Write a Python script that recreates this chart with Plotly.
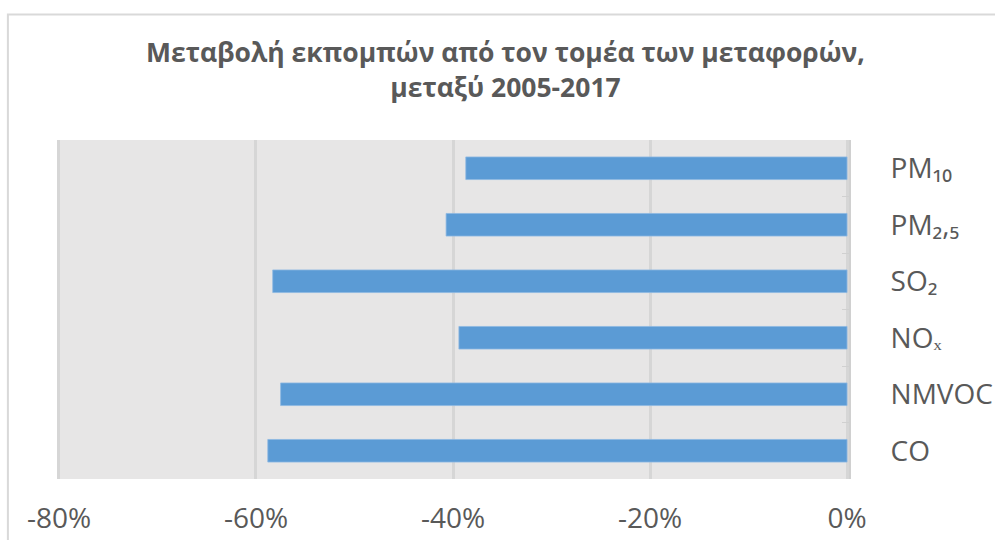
import plotly.graph_objects as go

# Pollutants, top to bottom, and their change 2005-2017 (%)
pollutants = ["PM₁₀", "PM₂,₅", "SO₂", "NOₓ", "NMVOC", "CO"]
change_pct = [-38.7, -40.7, -58.3, -39.4, -57.5, -58.8]
x_ticks = [-80, -60, -40, -20, 0]
x_tick_text = ["-80%", "-60%", "-40%", "-20%", "0%"]
title_text = "Μεταβολή εκπομπών από τον τομέα των μεταφορών,<br>μεταξύ 2005-2017"

FONT = "Open Sans"
GREY_TEXT = "#595959"

fig = go.Figure(
    go.Bar(
        x=change_pct,
        y=pollutants,
        orientation="h",
        marker=dict(color="#5B9BD5", line=dict(color="#8DB8E2", width=0.8)),
        hoverinfo="x+y",
    )
)

fig.update_layout(
    width=995,
    height=540,
    margin=dict(l=57, r=146, t=140, b=61),
    paper_bgcolor="white",
    plot_bgcolor="#E7E6E6",
    showlegend=False,
    bargap=0.6,
    title=dict(
        text=title_text,
        x=0.508,
        xanchor="center",
        y=0.885,
        yanchor="bottom",
        font=dict(family=FONT, size=26.5, color=GREY_TEXT, weight="bold"),
    ),
    font=dict(family=FONT, color=GREY_TEXT),
)

fig.update_xaxes(
    range=[-80.2, 0.2],
    tickvals=x_ticks,
    ticktext=x_tick_text,
    tickfont=dict(family=FONT, size=28, color=GREY_TEXT),
    showgrid=True,
    gridcolor="#D6D6D6",
    gridwidth=3,
    zeroline=False,
    showline=False,
    ticks="",
    ticklabelstandoff=20,
    automargin=False,
    fixedrange=True,
)

fig.update_yaxes(
    categoryorder="array",
    categoryarray=pollutants,
    autorange="reversed",
    side="right",
    tickfont=dict(family=FONT, size=28, color=GREY_TEXT),
    showgrid=False,
    zeroline=False,
    showline=True,
    linecolor="#D0D0D0",
    linewidth=2,
    ticks="inside",
    tickson="boundaries",
    ticklen=7,
    tickcolor="#D0D0D0",
    ticklabelstandoff=34,
    automargin=False,
    fixedrange=True,
)

# Light frame around the chart area
fig.add_shape(
    type="rect",
    xref="paper",
    yref="paper",
    x0=-0.062,
    x1=1.4,
    y0=-0.5,
    y1=1.37,
    line=dict(color="#D9D9D9", width=2),
    fillcolor="rgba(0,0,0,0)",
    layer="below",
)

fig.write_html("out.html")
